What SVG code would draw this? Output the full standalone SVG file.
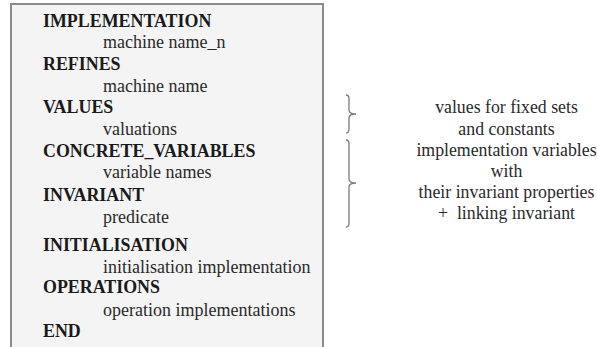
<svg xmlns="http://www.w3.org/2000/svg" width="597" height="347" viewBox="0 0 597 347">
<style>
.kw{font-family:"Liberation Serif","Times New Roman",serif;font-size:17.9px;font-weight:bold;fill:#1a1a1a}
.tx{font-family:"Liberation Serif","Times New Roman",serif;font-size:18px;fill:#2a2a2a}
.rt{font-family:"Liberation Serif","Times New Roman",serif;font-size:17.8px;fill:#2a2a2a;text-anchor:middle;white-space:pre}
.brace{fill:none;stroke:#7a7a7a;stroke-width:1.3}
</style>
<rect width="597" height="347" fill="#ffffff"/>
<g id="machine-box">
<rect x="11" y="4" width="312" height="360" fill="#f4f4f4" stroke="#8a8a8a" stroke-width="2"/>
<text class="kw" x="43" y="26.7">IMPLEMENTATION</text>
<text class="tx" x="103" y="48">machine name_n</text>
<text class="kw" x="43" y="69.5">REFINES</text>
<text class="tx" x="103" y="91.5">machine name</text>
<text class="kw" x="43" y="112.7">VALUES</text>
<text class="tx" x="103" y="135">valuations</text>
<text class="kw" x="43" y="156.7">CONCRETE_VARIABLES</text>
<text class="tx" x="103" y="178">variable names</text>
<text class="kw" x="43" y="200.7">INVARIANT</text>
<text class="tx" x="103" y="223.3">predicate</text>
<text class="kw" x="43" y="251">INITIALISATION</text>
<text class="tx" x="103" y="272.7">initialisation implementation</text>
<text class="kw" x="43" y="293.3">OPERATIONS</text>
<text class="tx" x="103" y="315.7">operation implementations</text>
<text class="kw" x="43" y="336.7">END</text>
</g>
<g id="connectors">
<path class="brace" d="M346,95 Q349,95 349,99 L349,110 Q349,114 356,114 Q349,114 349,118 L349,129 Q349,133 346,133"/>
<path class="brace" d="M346,140 Q349,140 349,144 L349,179 Q349,183 356,183 Q349,183 349,187 L349,223 Q349,227 346,227"/>
</g>
<g id="annotation-values">
<text class="rt" x="506.5" y="113.3">values for fixed sets</text>
<text class="rt" x="506.5" y="135">and constants</text>
</g>
<g id="annotation-variables">
<text class="rt" x="506.5" y="156">implementation variables</text>
<text class="rt" x="506.5" y="176.7">with</text>
<text class="rt" x="506.5" y="198.3">their invariant properties</text>
<text class="rt" x="506.5" y="219.3">+  linking invariant</text>
</g>
</svg>
